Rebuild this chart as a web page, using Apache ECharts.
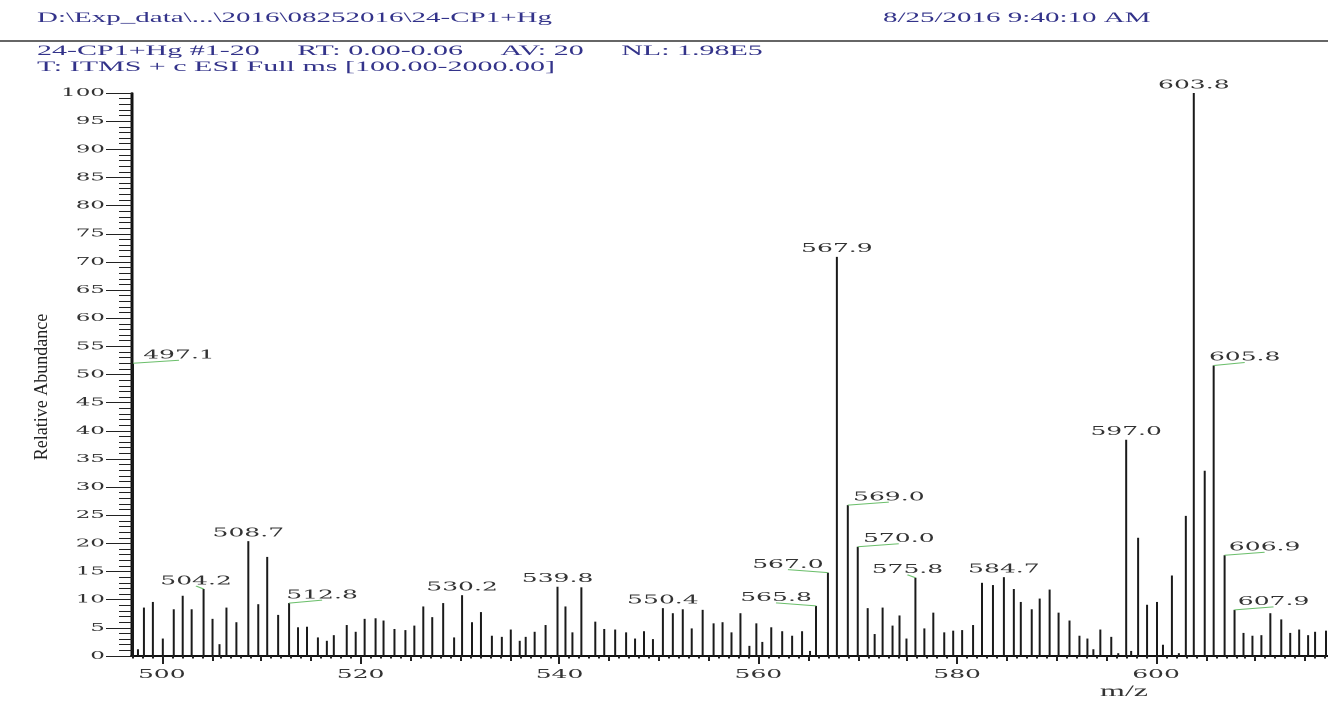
<!DOCTYPE html>
<html>
<head>
<meta charset="utf-8">
<title>24-CP1+Hg ESI Full ms</title>
<script src="https://cdn.jsdelivr.net/npm/echarts@6/dist/echarts.min.js"></script>
<style>
  html, body { margin: 0; padding: 0; background: #fff; overflow: hidden; }
  #wrap { width: 1328px; height: 702px; overflow: hidden; }
  /* The spectrum printout uses wide, horizontally stretched lettering and sticks:
     the chart is laid out at half width and stretched 2x horizontally. */
  #chart { width: 664px; height: 702px; transform: scaleX(2); transform-origin: 0 0; }
</style>
</head>
<body>
<div id="wrap"><div id="chart"></div></div>
<script>
// ---- spectrum data: m/z and relative abundance (%) of each centroid stick ----
const mz = [
  497.1, 497.6, 498.2, 499.1, 500.1, 501.2, 502.1, 503.0, 504.2, 505.1,
  505.8, 506.5, 507.5, 508.7, 509.7, 510.6, 511.7, 512.8, 513.7, 514.6,
  515.7, 516.6, 517.3, 518.6, 519.5, 520.4, 521.5, 522.3, 523.4, 524.5,
  525.4, 526.3, 527.2, 528.3, 529.4, 530.2, 531.2, 532.1, 533.2, 534.2,
  535.1, 536.0, 536.6, 537.5, 538.6, 539.8, 540.6, 541.3, 542.2, 543.6,
  544.5, 545.6, 546.7, 547.6, 548.5, 549.4, 550.4, 551.4, 552.4, 553.3,
  554.4, 555.5, 556.4, 557.3, 558.2, 559.1, 559.8, 560.4, 561.3, 562.4,
  563.4, 564.4, 565.2, 565.8, 567.0, 567.9, 569.0, 570.0, 571.0, 571.7,
  572.5, 573.5, 574.2, 574.9, 575.8, 576.7, 577.6, 578.7, 579.6, 580.5,
  581.6, 582.5, 583.6, 584.7, 585.7, 586.4, 587.5, 588.3, 589.3, 590.2,
  591.3, 592.3, 593.1, 593.7, 594.4, 595.5, 596.2, 597.0, 597.5, 598.2,
  599.1, 600.1, 600.7, 601.6, 602.3, 603.0, 603.8, 604.9, 605.8, 606.9,
  607.9, 608.8, 609.7, 610.6, 611.5, 612.6, 613.5, 614.4, 615.3, 616.0,
  617.1
];
const abundance = [
  52.0, 1.2, 8.6, 9.6, 3.1, 8.3, 10.7, 8.3, 11.9, 6.6,
  2.1, 8.6, 6.0, 20.4, 9.2, 17.6, 7.3, 9.4, 5.1, 5.2,
  3.3, 2.7, 3.7, 5.5, 4.3, 6.6, 6.7, 6.3, 4.8, 4.6,
  5.4, 8.8, 6.9, 9.4, 3.3, 10.8, 6.0, 7.8, 3.6, 3.4,
  4.7, 2.7, 3.4, 4.3, 5.5, 12.3, 8.8, 4.2, 12.2, 6.1,
  4.8, 4.7, 4.2, 3.1, 4.4, 3.0, 8.5, 7.6, 8.3, 4.9,
  8.2, 5.8, 6.0, 4.2, 7.6, 1.8, 5.8, 2.5, 5.1, 4.4,
  3.6, 4.4, 0.9, 8.9, 14.8, 70.9, 26.8, 19.4, 8.5, 3.9,
  8.6, 5.4, 7.2, 3.1, 13.9, 4.9, 7.7, 4.2, 4.5, 4.6,
  5.5, 13.0, 12.6, 14.0, 11.9, 9.6, 8.3, 10.2, 11.8, 7.7,
  6.3, 3.6, 3.1, 1.2, 4.7, 3.4, 0.5, 38.4, 0.9, 21.0,
  9.1, 9.6, 2.0, 14.3, 0.5, 24.9, 100.0, 32.9, 51.6, 17.9,
  8.2, 4.1, 3.6, 3.7, 7.6, 6.5, 4.1, 4.7, 3.7, 4.3,
  4.5
];
// peaks carrying an m/z label
const labelMz = [497.1, 504.2, 508.7, 512.8, 530.2, 539.8, 550.4, 565.8, 567.0, 567.9,
                 569.0, 570.0, 575.8, 584.7, 597.0, 603.8, 605.8, 606.9, 607.9];
// axis ticks
const xTickLabels = [500, 520, 540, 560, 580, 600];
const yTickLabels = [0, 5, 10, 15, 20, 25, 30, 35, 40, 45, 50, 55, 60, 65, 70, 75, 80, 85, 90, 95, 100];
// header text
const headerPath = 'D:\\Exp_data\\...\\2016\\08252016\\24-CP1+Hg';
const headerDate = '8/25/2016 9:40:10 AM';
const headerScan = '24-CP1+Hg #1-20     RT: 0.00-0.06     AV: 20     NL: 1.98E5';
const headerFilter = 'T: ITMS + c ESI Full ms [100.00-2000.00]';

// ---- layout (screen pixels; horizontal values are divided by the stretch) ----
const STRETCH = 2;
const sx = v => v / STRETCH;
const MZ_MIN = 497.0, MZ_MAX = 617.3;
// horizontal shift of each label from its peak (0 = centred, otherwise a leader line is drawn)
const labelShift = [46, -7.5, 0, 33, 0, 0, 0, -40, -40, 0, 41, 41, -8, 0, 0, 0, 31, 40, 39];
const LABEL_RISE = 8;

const sticks = mz.map((m, i) => [m, abundance[i]]);
const labelData = labelMz.map((m, i) => {
  const k = mz.indexOf(m);
  return [m, abundance[k], sx(labelShift[i])];
});

const mediumTicks = [];
for (let v = Math.ceil(MZ_MIN / 5) * 5; v <= MZ_MAX; v += 5) mediumTicks.push(v);
const minorTicks = [];
for (let v = Math.ceil(MZ_MIN); v <= MZ_MAX; v += 1) minorTicks.push(v);

const tickFont = 'DejaVu Serif';
const headerColor = '#33338a';
const headerTop = { font: '14.5px "Liberation Serif", serif', fill: headerColor, verticalAlign: 'middle' };
const headerSub = { font: '15px "Liberation Serif", serif', fill: headerColor, verticalAlign: 'middle' };

const chart = echarts.init(document.getElementById('chart'), null, { devicePixelRatio: 2 });

const baseX = {
  type: 'value', min: MZ_MIN, max: MZ_MAX, position: 'bottom',
  splitLine: { show: false }, axisLine: { show: false }, axisLabel: { show: false },
  axisTick: { show: true, lineStyle: { color: '#222', width: 1 } }
};

chart.setOption({
  animation: false,
  backgroundColor: '#ffffff',
  textStyle: { fontFamily: tickFont },
  grid: { left: sx(132), right: 0, top: 93, bottom: 46 },
  xAxis: [
    Object.assign({}, baseX, {
      axisLine: { show: true, onZero: false, lineStyle: { color: '#111', width: 2 } },
      axisTick: { show: true, length: 8, customValues: xTickLabels, lineStyle: { color: '#222', width: 1 } },
      axisLabel: { show: true, customValues: xTickLabels, margin: 12, color: '#333',
                   fontFamily: tickFont, fontSize: 12.5 }
    }),
    Object.assign({}, baseX, {
      axisTick: { show: true, length: 5, customValues: mediumTicks, lineStyle: { color: '#222', width: 1 } }
    }),
    Object.assign({}, baseX, {
      axisTick: { show: true, length: 2.5, customValues: minorTicks, lineStyle: { color: '#222', width: 1 } }
    })
  ],
  yAxis: {
    type: 'value', min: yTickLabels[0], max: yTickLabels[yTickLabels.length - 1], interval: 5,
    splitLine: { show: false },
    axisLine: { show: true, onZero: false, lineStyle: { color: '#111', width: 1.5 } },
    axisTick: { show: true, length: sx(26), lineStyle: { color: '#222', width: 1 } },
    minorTick: { show: true, splitNumber: 5, length: sx(13), lineStyle: { color: '#222', width: 1 } },
    axisLabel: { margin: sx(27), color: '#333', fontFamily: tickFont, fontSize: 11.5 }
  },
  graphic: [
    { type: 'text', x: sx(37), y: 18, style: Object.assign({ text: headerPath }, headerTop) },
    { type: 'text', x: sx(883), y: 18, style: Object.assign({ text: headerDate }, headerTop) },
    { type: 'line', shape: { x1: 0, y1: 41, x2: sx(1328), y2: 41 }, style: { stroke: '#666', lineWidth: 2 } },
    { type: 'text', x: sx(37), y: 51, style: Object.assign({ text: headerScan }, headerSub) },
    { type: 'text', x: sx(37), y: 67, style: Object.assign({ text: headerFilter }, headerSub) },
    { type: 'text', x: sx(42), y: 387, rotation: Math.PI / 2, scaleY: 1 / STRETCH,
      style: { text: 'Relative Abundance', font: '18px "Liberation Serif", serif', fill: '#222',
               align: 'center', verticalAlign: 'middle' } },
    { type: 'text', x: sx(1124), y: 692,
      style: { text: 'm/z', font: '16px "Liberation Serif", serif', fill: '#333',
               align: 'center', verticalAlign: 'middle' } }
  ],
  series: [
    {
      type: 'bar', name: 'spectrum', xAxisIndex: 0, yAxisIndex: 0,
      data: sticks, barWidth: 1, silent: true,
      itemStyle: { color: '#1a1a1a' }
    },
    {
      type: 'custom', name: 'peak labels', xAxisIndex: 0, yAxisIndex: 0,
      data: labelData, clip: false, silent: true, z: 5,
      renderItem: function (params, api) {
        const m = api.value(0), a = api.value(1), dx = api.value(2);
        const p = api.coord([m, a]);
        const cx = p[0] + dx, cy = p[1] - LABEL_RISE;
        const children = [];
        if (dx !== 0) {
          children.push({ type: 'line',
            shape: { x1: p[0], y1: p[1], x2: cx, y2: cy + 5 },
            style: { stroke: '#6cbf6c', lineWidth: 1 } });
        }
        children.push({ type: 'text', x: cx, y: cy,
          style: { text: m.toFixed(1), font: '12.5px "DejaVu Serif", serif', fill: '#333',
                   align: 'center', verticalAlign: 'middle' } });
        return { type: 'group', children: children };
      }
    }
  ]
});
</script>
</body>
</html>
